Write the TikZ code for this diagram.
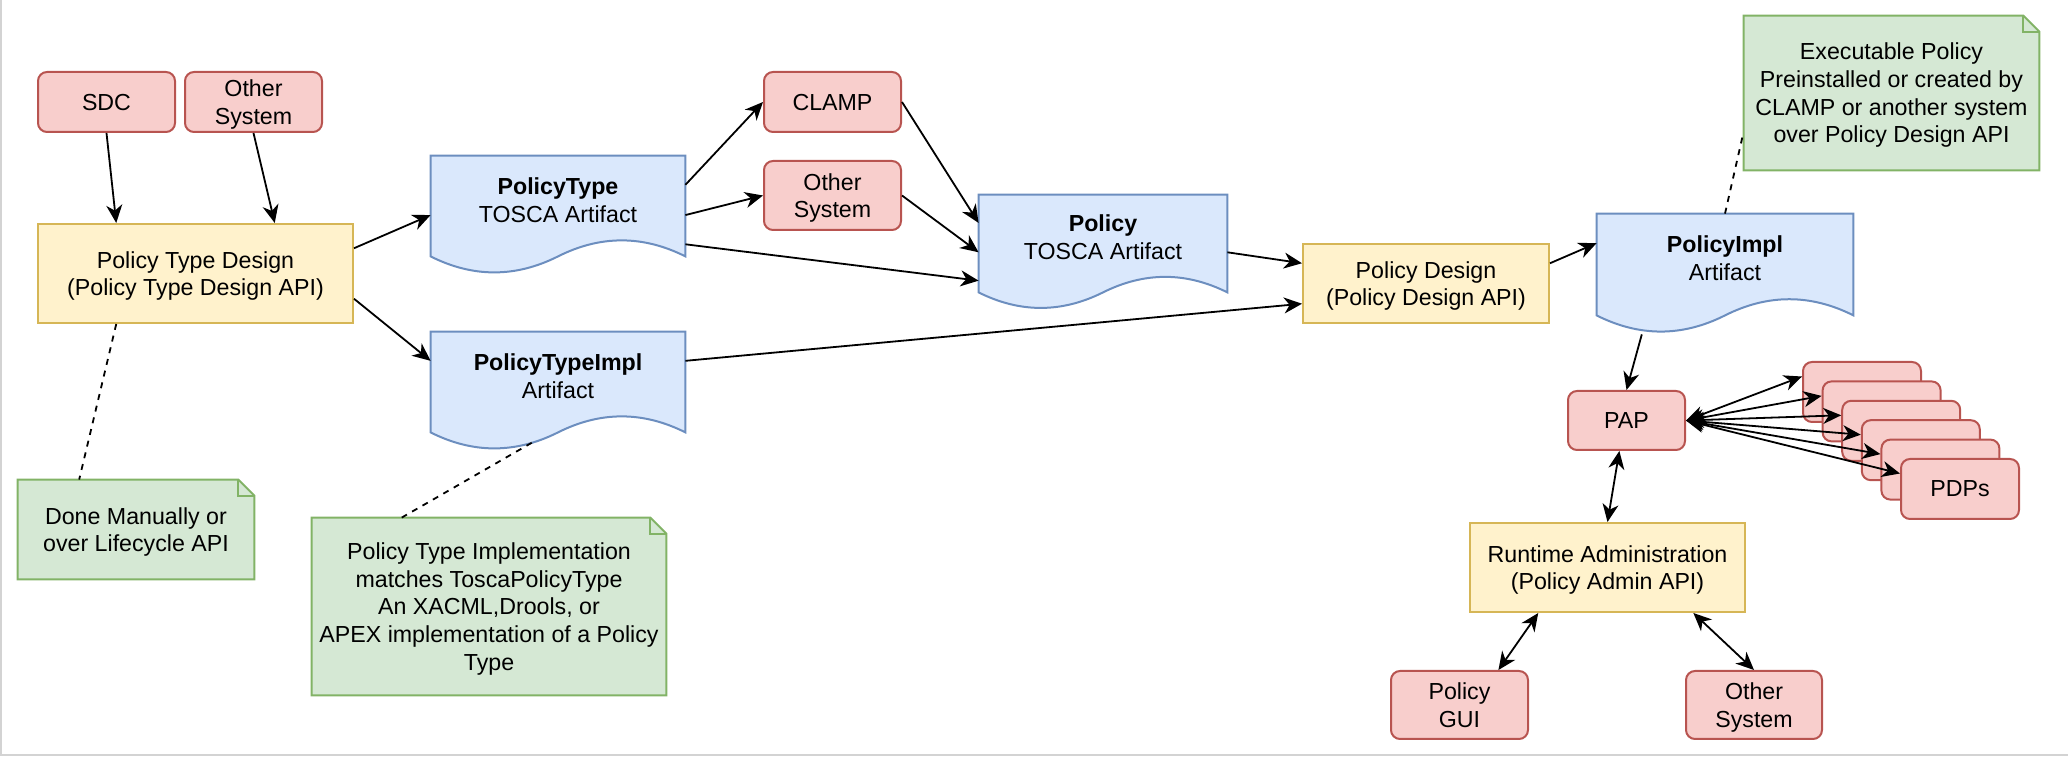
\documentclass[tikz,border=0pt]{standalone}
\usepackage{fontspec}
\setmainfont{Liberation Sans}
\usetikzlibrary{arrows.meta,calc,backgrounds}

\definecolor{sysfill}{HTML}{F8CECC}
\definecolor{sysline}{HTML}{B85450}
\definecolor{apifill}{HTML}{FFF2CC}
\definecolor{apiline}{HTML}{D6B656}
\definecolor{docfill}{HTML}{DAE8FC}
\definecolor{docline}{HTML}{6C8EBF}
\definecolor{memofill}{HTML}{D5E8D4}
\definecolor{memoline}{HTML}{82B366}
\definecolor{framegray}{HTML}{D3D3D3}

\tikzset{
  wh/.style 2 args={minimum width=#1*0.5pt, minimum height=#2*0.5pt},
  sys/.style={draw=sysline, fill=sysfill, line width=1pt, rounded corners=4.5pt, align=center, inner sep=0pt, text depth=-1.3pt},
  api/.style={draw=apiline, fill=apifill, line width=1pt, align=center, inner sep=0pt, text depth=-1.3pt},
  artifact/.style={inner sep=0pt},
  doctext/.style={align=center, inner sep=0pt, yshift=3pt},
  memo/.style={align=center, inner sep=0pt, text depth=-1.3pt},
  tip/.tip={Stealth[length=9pt, width=8pt, inset=2.8pt]},
  arrowline/.style={-tip, line width=0.9pt},
  twoway/.style={tip-tip, line width=0.9pt},
  noteline/.style={dashed, line width=0.9pt}
}

\newcommand\docshape[1]{%
  \draw[draw=docline, fill=docfill, line width=1pt]
    let \p1=(#1.south west), \p2=(#1.north east), \n1={\x2-\x1}, \n2={(\y2-\y1)/0.85} in
    (\x1,\y2) -- (\x2,\y2) -- (\x2,\y1)
    .. controls (\x1+0.8333*\n1,\y1+0.18*\n2) and (\x1+0.6667*\n1,\y1+0.18*\n2) .. (\x1+0.5*\n1,\y1)
    .. controls (\x1+0.3333*\n1,\y1-0.18*\n2) and (\x1+0.1667*\n1,\y1-0.18*\n2) .. (\x1,\y1) -- cycle;}

\newcommand\noteshape[1]{%
  \draw[draw=memoline, fill=memofill, line width=1pt]
    (#1.north west) -- ([xshift=-8pt]#1.north east) -- ([yshift=-8pt]#1.north east)
    -- (#1.south east) -- (#1.south west) -- cycle;
  \draw[draw=memoline, line width=1pt] ([xshift=-8pt]#1.north east) |- ([yshift=-8pt]#1.north east);}

\begin{document}
\begin{tikzpicture}[x=0.5pt, y=-0.5pt, font=\fontsize{11.6}{13.8}\selectfont]
\useasboundingbox (0,0) rectangle (2068,758);
\draw[framegray, line width=1pt] (1,0) -- (1,755) -- (2068,755);

% design side
\node[sys, wh={137}{60}] (sdc) at (106.5,102) {SDC};
\node[sys, wh={137}{60}] (othA) at (253.5,102) {Other\\System};
\node[api, wh={315}{99}] (ptd) at (195.5,273.5) {Policy Type Design\\(Policy Type Design API)};
\node[artifact, wh={254}{100}, label={[doctext]center:\textbf{PolicyType}\\TOSCA Artifact}] (ptype) at (558,206) {};
\node[artifact, wh={254}{100}, label={[doctext]center:\textbf{PolicyTypeImpl}\\Artifact}] (ptimpl) at (558,382) {};
\node[sys, wh={137}{60}] (clamp) at (832.5,102) {CLAMP};
\node[sys, wh={137}{69}] (othB) at (832.5,195.5) {Other\\System};
\node[artifact, wh={248}{97}, label={[doctext]center:\textbf{Policy}\\TOSCA Artifact}] (policy) at (1103,243.5) {};
\node[api, wh={246}{79}] (pdes) at (1426,283.5) {Policy Design\\(Policy Design API)};
\node[artifact, wh={256}{101}, label={[doctext]center:\textbf{PolicyImpl}\\Artifact}] (pimpl) at (1725,264.5) {};

% runtime side
\node[sys, wh={117}{59}] (pap) at (1626.5,420.5) {PAP};
\foreach \i in {0,...,5}
  \node[sys, wh={118}{60}] (pdp\i) at (1862+19.6*\i,392+19.4*\i) {\ifnum\i=5 PDPs\fi};
\node[api, wh={275}{89}] (radm) at (1607.5,567.5) {Runtime Administration\\(Policy Admin API)};
\node[sys, wh={137}{68}] (gui) at (1459.5,705) {Policy\\GUI};
\node[sys, wh={136}{68}] (othC) at (1754,705) {Other\\System};

% notes
\node[memo, wh={236}{99}] (donenote) at (136,529.5) {Done Manually or\\over Lifecycle API};
\node[memo, wh={354}{177}] (ptinote) at (489,606.5) {Policy Type Implementation\\matches ToscaPolicyType\\An XACML,Drools, or\\APEX implementation of a Policy\\Type};
\node[memo, wh={295}{154}] (execnote) at (1891.5,93) {Executable Policy\\Preinstalled or created by\\CLAMP or another system\\over Policy Design API};

\begin{scope}[on background layer]
\docshape{ptype} \docshape{ptimpl} \docshape{policy} \docshape{pimpl}
\noteshape{donenote} \noteshape{ptinote} \noteshape{execnote}
\end{scope}

\draw[arrowline] (sdc.south) -- ($(ptd.north west)!0.25!(ptd.north east)$);
\draw[arrowline] (othA.south) -- ($(ptd.north west)!0.75!(ptd.north east)$);
\draw[arrowline] ($(ptd.north east)!0.25!(ptd.south east)$) -- ($(ptype.north west)!0.59!(ptype.south west)$);
\draw[arrowline] ($(ptd.north east)!0.75!(ptd.south east)$) -- ($(ptimpl.north west)!0.29!(ptimpl.south west)$);
\draw[arrowline] ($(ptype.north east)!0.29!(ptype.south east)$) -- (clamp.west);
\draw[arrowline] ($(ptype.north east)!0.59!(ptype.south east)$) -- (othB.west);
\draw[arrowline] ($(ptype.north east)!0.88!(ptype.south east)$) -- ($(policy.north west)!0.88!(policy.south west)$);
\draw[arrowline] (clamp.east) -- ($(policy.north west)!0.29!(policy.south west)$);
\draw[arrowline] (othB.east) -- ($(policy.north west)!0.59!(policy.south west)$);
\draw[arrowline] ($(policy.north east)!0.59!(policy.south east)$) -- ($(pdes.north west)!0.25!(pdes.south west)$);
\draw[arrowline] ($(ptimpl.north east)!0.29!(ptimpl.south east)$) -- ($(pdes.north west)!0.75!(pdes.south west)$);
\draw[arrowline] ($(pdes.north east)!0.25!(pdes.south east)$) -- ($(pimpl.north west)!0.29!(pimpl.south west)$);
\draw[arrowline] ($(pimpl.south west)!0.176!(pimpl.south east)+(0,19)$) -- (pap.north);

\draw[twoway] ($(pap.south west)!0.44!(pap.south east)$) -- (radm.north);
\draw[twoway] ($(radm.south west)!0.25!(radm.south east)$) -- ($(gui.north west)!0.78!(gui.north east)$);
\draw[twoway] ($(radm.south west)!0.81!(radm.south east)$) -- (othC.north);
\foreach \i in {0,...,5}
  \draw[twoway] (pap.east) -- ($(pdp\i.north west)!0.25!(pdp\i.south west)$);

\draw[noteline] ($(ptd.south west)!0.25!(ptd.south east)$) -- ($(donenote.north west)!0.26!(donenote.north east)$);
\draw[noteline] ($(ptinote.north west)!0.254!(ptinote.north east)$) -- ($(ptimpl.south west)!0.413!(ptimpl.south east)+(0,8)$);
\draw[noteline] (pimpl.north) -- ($(execnote.north west)!0.75!(execnote.south west)$);
\end{tikzpicture}
\end{document}
